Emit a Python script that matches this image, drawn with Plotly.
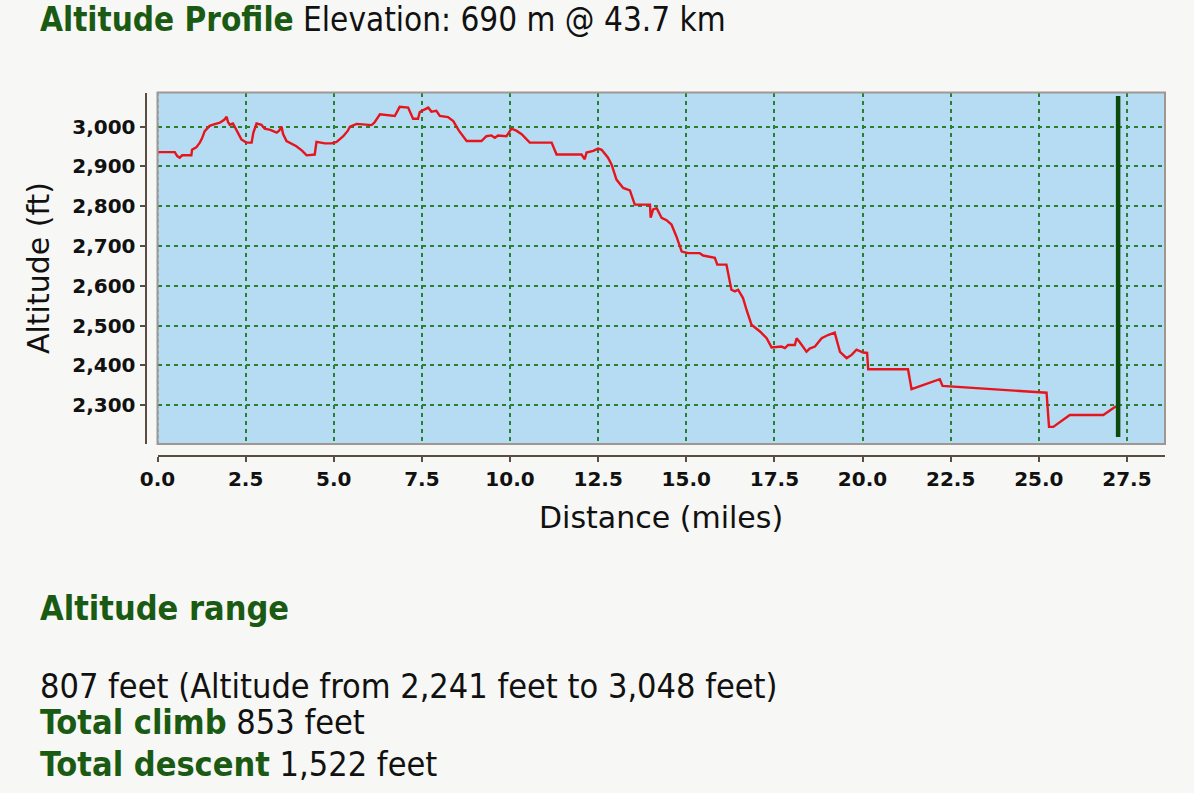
import plotly.graph_objects as go

# --- data ---
miles = [
    0.00, 0.49, 0.56, 0.63, 0.70, 0.96, 0.98, 1.10, 1.20, 1.26, 1.34, 1.48, 1.60, 1.77, 1.90,
    1.96, 2.00, 2.05, 2.14, 2.25, 2.38, 2.52, 2.67, 2.72, 2.81, 2.95, 3.04, 3.20, 3.38, 3.45,
    3.52, 3.56, 3.66, 3.94, 4.10, 4.23, 4.46, 4.51, 4.75, 4.94, 5.08, 5.27, 5.40, 5.46, 5.65,
    6.07, 6.15, 6.31, 6.73, 6.87, 7.11, 7.25, 7.39, 7.44, 7.68, 7.77, 7.91, 8.01, 8.24, 8.39,
    8.55, 8.77, 9.19, 9.33, 9.47, 9.57, 9.66, 9.90, 10.04, 10.18, 10.33, 10.56, 11.18, 11.32,
    12.03, 12.12, 12.17, 12.36, 12.50, 12.60, 12.78, 12.88, 13.02, 13.21, 13.40, 13.54, 13.97,
    13.99, 14.06, 14.16, 14.30, 14.44, 14.58, 14.72, 14.87, 15.05, 15.38, 15.48, 15.81, 15.88,
    16.14, 16.28, 16.38, 16.47, 16.61, 16.71, 16.85, 17.09, 17.28, 17.42, 17.70, 17.80, 17.89,
    18.08, 18.13, 18.22, 18.41, 18.50, 18.65, 18.84, 19.02, 19.21, 19.36, 19.55, 19.69, 19.83,
    20.02, 20.13, 20.16, 21.29, 21.39, 22.19, 22.27, 25.22, 25.29, 25.41, 25.88, 26.83, 27.19,
]
altitude_ft = [
    2936, 2936, 2926, 2922, 2928, 2928, 2942, 2948, 2960, 2970, 2989, 3002, 3006, 3010, 3018,
    3025, 3012, 3005, 3008, 2990, 2968, 2960, 2960, 2985, 3008, 3005, 2995, 2992, 2985, 2990,
    3000, 2982, 2964, 2951, 2940, 2928, 2930, 2962, 2958, 2958, 2962, 2976, 2990, 3000, 3007,
    3004, 3010, 3031, 3027, 3050, 3048, 3020, 3020, 3037, 3048, 3038, 3040, 3027, 3024, 3014,
    2990, 2964, 2964, 2976, 2978, 2972, 2978, 2976, 2995, 2990, 2981, 2960, 2960, 2930,
    2930, 2918, 2935, 2939, 2945, 2942, 2922, 2905, 2867, 2846, 2840, 2804, 2804,
    2771, 2792, 2795, 2771, 2765, 2754, 2724, 2686, 2682, 2682, 2676, 2670, 2653,
    2653, 2590, 2586, 2590, 2569, 2539, 2502, 2485, 2468, 2445, 2447, 2443, 2451,
    2451, 2468, 2458, 2434, 2442, 2447, 2468, 2476, 2482, 2434, 2418, 2426, 2439,
    2432, 2431, 2390, 2390, 2340, 2365, 2348, 2331, 2245, 2245, 2275, 2275, 2297,
]
marker_mile = 27.25

title_main = "Altitude Profile"
title_rest = "Elevation: 690 m @ 43.7 km"
range_head = "Altitude range"
range_text = "807 feet (Altitude from 2,241 feet to 3,048 feet)"
climb_text = ("Total climb", "853 feet")
descent_text = ("Total descent", "1,522 feet")

W, H = 1194, 793
GREEN = "#1b5a12"
AXIS = "#5b4c42"
TEXT_FONT = "Liberation Sans Narrow, DejaVu Sans Condensed, sans-serif"


def px(x):
    return x / W


def py(y):
    return 1 - y / H


fig = go.Figure()

fig.add_trace(go.Scatter(
    x=miles, y=altitude_ft, mode="lines",
    line=dict(color="#e8141c", width=2.4),
    hoverinfo="x+y", showlegend=False,
))

# left edge dotted line and position marker
fig.add_shape(type="line", xref="x", yref="y domain", x0=0, x1=0, y0=0, y1=1,
              line=dict(color="#1f2f88", width=1.5, dash="dot"))
fig.add_shape(type="line", xref="x", yref="y domain", x0=marker_mile, x1=marker_mile,
              y0=0.02, y1=0.99, line=dict(color="#0b4a0b", width=4.5))
# plot frame
fig.add_shape(type="rect", xref="x domain", yref="y domain", x0=0, x1=1, y0=0, y1=1,
              line=dict(color="#a09890", width=2), layer="above")

tickfont = dict(family="DejaVu Sans", size=20, color="#111", weight="bold")

fig.update_layout(
    width=W, height=H,
    margin=dict(l=0, r=0, t=0, b=0),
    paper_bgcolor="#f7f7f5",
    plot_bgcolor="#b6dcf3",
    xaxis=dict(
        domain=[px(157.5), px(1165)],
        anchor="free", position=py(456), automargin=False,
        range=[0, 28.58], dtick=2.5, tick0=0, tickformat=".1f",
        showline=True, linecolor=AXIS, linewidth=2,
        ticks="outside", ticklen=5, tickcolor=AXIS, tickwidth=2,
        tickfont=tickfont,
        showgrid=True, gridcolor="#2a7f30", gridwidth=1.8, griddash="4px,4px",
        zeroline=False,
    ),
    yaxis=dict(
        domain=[py(444), py(92.5)],
        anchor="free", position=px(145.5), automargin=False,
        range=[2202, 3086], dtick=100, tick0=2300, tickformat=",d",
        showline=True, linecolor=AXIS, linewidth=2,
        ticks="outside", ticklen=5, tickcolor=AXIS, tickwidth=2,
        tickfont=tickfont,
        showgrid=True, gridcolor="#2a7f30", gridwidth=1.8, griddash="4px,4px",
        zeroline=False,
    ),
)

# axis titles
fig.add_annotation(x=px(38), y=py(268), xref="paper", yref="paper", text="Altitude (ft)",
                   textangle=-90, showarrow=False, xanchor="center", yanchor="middle",
                   font=dict(family="DejaVu Sans", size=30, color="#111"))
fig.add_annotation(x=px(661), y=py(517), xref="paper", yref="paper", text="Distance (miles)",
                   showarrow=False, xanchor="center", yanchor="middle",
                   font=dict(family="DejaVu Sans", size=30, color="#111"))


# page texts
def page_text(x, y, text, size):
    fig.add_annotation(x=px(x), y=py(y), xref="paper", yref="paper", text=text,
                       xanchor="left", yanchor="middle", showarrow=False, borderpad=0,
                       font=dict(family=TEXT_FONT, size=size, color="#111"))


page_text(39, 19, f"<b><span style='color:{GREEN}'>{title_main}</span></b> {title_rest}", 33)
page_text(39, 608, f"<b><span style='color:{GREEN}'>{range_head}</span></b>", 34)
page_text(39, 686, range_text, 34)
page_text(39, 722, f"<b><span style='color:{GREEN}'>{climb_text[0]}</span></b> {climb_text[1]}", 34)
page_text(39, 764, f"<b><span style='color:{GREEN}'>{descent_text[0]}</span></b> {descent_text[1]}", 34)

# drop the default page margin so the figure sits at the window corner
fig.write_html("out.html", config={"displayModeBar": False},
               post_script="document.body.style.margin='0';")
